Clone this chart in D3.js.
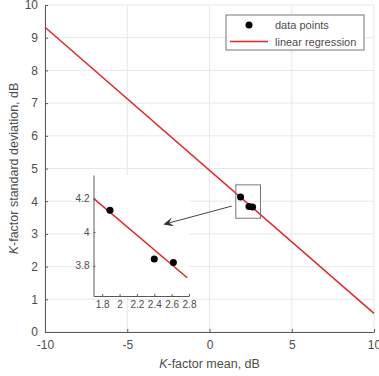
<!DOCTYPE html>
<html>
<head>
<meta charset="utf-8">
<script src="https://cdn.jsdelivr.net/npm/d3@7"></script>
<style>
  body { margin: 0; background: #fff; }
  svg { display: block; font-family: "Liberation Sans", Arial, sans-serif; }
</style>
</head>
<body>
<div id="chart"></div>
<script>
// data
let pointsX = [1.89, 2.40, 2.62]
let pointsY = [4.13, 3.84, 3.82]
let regX = [-10, 10]
let regY = [9.32, 0.57]
let xTicks = [-10, -5, 0, 5, 10]
let yTicks = [0, 1, 2, 3, 4, 5, 6, 7, 8, 9, 10]
let insetXTicks = [1.8, 2, 2.2, 2.4, 2.6, 2.8]
let insetYTicks = [3.8, 4, 4.2]
let zoomBox = [1.6, 3.1, 3.48, 4.5]      // x0, x1, y0, y1
let arrowFrom = [1.35, 3.85]
let arrowTo = [-2.81, 3.29]
let legendLabels = ["data points", "linear regression"]

const W = 379, H = 376
const red = "#e3262b", txt = "#4d4d4d", axc = "#5a5a5a", gridc = "#e8e8e8"

let svg = d3.select("#chart").append("svg").attr("width", W).attr("height", H)

let x = d3.scaleLinear().domain([-10, 10]).range([45, 374])
let y = d3.scaleLinear().domain([0, 10]).range([332, 5])

// grid
let grid = svg.append("g")
grid.selectAll(".gx").data(xTicks).enter().append("line")
    .attr("x1", d => x(d)).attr("x2", d => x(d)).attr("y1", y(0)).attr("y2", y(10))
    .attr("stroke", gridc)
grid.selectAll(".gy").data(yTicks).enter().append("line")
    .attr("x1", x(-10)).attr("x2", x(10)).attr("y1", d => y(d)).attr("y2", d => y(d))
    .attr("stroke", gridc)

// axes
let xAxis = svg.append("g").attr("transform", `translate(0,${y(0)})`)
    .call(d3.axisBottom(x).tickValues(xTicks).tickSizeInner(-3).tickSizeOuter(0).tickPadding(8))
let yAxis = svg.append("g").attr("transform", `translate(${x(-10)},0)`)
    .call(d3.axisLeft(y).tickValues(yTicks).tickSizeInner(-3).tickSizeOuter(0).tickPadding(7))
for (let a of [xAxis, yAxis]) {
    a.select(".domain").attr("stroke", axc)
    a.selectAll(".tick line").attr("stroke", axc)
    a.selectAll("text").attr("fill", txt).style("font-size", "12px")
}
xAxis.selectAll("text").text(d => d < 0 ? "-" + Math.abs(d) : d)

// axis labels
let xl = svg.append("text").attr("x", x(0)).attr("y", 368).attr("text-anchor", "middle")
    .attr("fill", txt).style("font-size", "12.5px")
xl.append("tspan").attr("font-style", "italic").text("K")
xl.append("tspan").text("-factor mean, dB")
let yl = svg.append("text").attr("transform", `translate(18,${y(5)}) rotate(-90)`)
    .attr("text-anchor", "middle").attr("fill", txt).style("font-size", "12.5px")
yl.append("tspan").attr("font-style", "italic").text("K")
yl.append("tspan").text("-factor standard deviation, dB")

// regression line
let line = d3.line().x(d => x(d[0])).y(d => y(d[1]))
svg.append("path").datum(d3.zip(regX, regY)).attr("d", line)
    .attr("fill", "none").attr("stroke", red).attr("stroke-width", 1.5)

// data points
svg.selectAll(".pt").data(d3.zip(pointsX, pointsY)).enter().append("circle")
    .attr("cx", d => x(d[0])).attr("cy", d => y(d[1])).attr("r", 3.5).attr("fill", "#000")

// zoom box
svg.append("rect")
    .attr("x", x(zoomBox[0])).attr("y", y(zoomBox[3]))
    .attr("width", x(zoomBox[1]) - x(zoomBox[0])).attr("height", y(zoomBox[2]) - y(zoomBox[3]))
    .attr("fill", "none").attr("stroke", "#777").attr("stroke-width", 1)

// inset
let ix = d3.scaleLinear().domain([1.7, 2.8]).range([93.5, 189])
let iy = d3.scaleLinear().domain([3.62, 4.34]).range([296, 175])
let inset = svg.append("g")
inset.append("rect").attr("x", ix(1.7)).attr("y", iy(4.34))
    .attr("width", ix(2.8) - ix(1.7)).attr("height", iy(3.62) - iy(4.34)).attr("fill", "#fff")
inset.append("clipPath").attr("id", "iclip").append("rect")
    .attr("x", ix(1.7)).attr("y", iy(4.34)).attr("width", ix(2.8) - ix(1.7) + 2).attr("height", iy(3.62) - iy(4.34))

let regSlope = (regY[1] - regY[0]) / (regX[1] - regX[0])
let iline = d3.line().x(d => ix(d[0])).y(d => iy(d[1]))
let iReg = [1.7, 2.78].map(v => [v, regY[0] + regSlope * (v - regX[0])])
inset.append("path").datum(iReg).attr("d", iline).attr("clip-path", "url(#iclip)")
    .attr("fill", "none").attr("stroke", red).attr("stroke-width", 1.5)
inset.selectAll(".ipt").data(d3.zip(pointsX, pointsY)).enter().append("circle")
    .attr("cx", d => ix(d[0])).attr("cy", d => iy(d[1])).attr("r", 3.5).attr("fill", "#000")

let ixAxis = inset.append("g").attr("transform", `translate(0,${iy(3.62)})`)
    .call(d3.axisBottom(ix).tickValues(insetXTicks).tickFormat(d => d).tickSizeInner(-2).tickSizeOuter(0).tickPadding(5))
let iyAxis = inset.append("g").attr("transform", `translate(${ix(1.7)},0)`)
    .call(d3.axisLeft(iy).tickValues(insetYTicks).tickFormat(d => d).tickSizeInner(-2).tickSizeOuter(0).tickPadding(4))
for (let a of [ixAxis, iyAxis]) {
    a.select(".domain").attr("stroke", axc)
    a.selectAll(".tick line").attr("stroke", axc)
    a.selectAll("text").attr("fill", txt).style("font-size", "10px")
}

// arrow
let ax0 = x(arrowFrom[0]), ay0 = y(arrowFrom[1]), ax1 = x(arrowTo[0]), ay1 = y(arrowTo[1])
svg.append("line").attr("x1", ax0).attr("y1", ay0).attr("x2", ax1 + 4).attr("y2", ay1 - 1)
    .attr("stroke", "#444").attr("stroke-width", 1)
let ang = Math.atan2(ay1 - ay0, ax1 - ax0)
let hl = 10, hw = 4.5, back = 6
let ux = Math.cos(ang), uy = Math.sin(ang)
let px = -uy, py = ux
let head = [
    [ax1, ay1],
    [ax1 - ux * hl + px * hw, ay1 - uy * hl + py * hw],
    [ax1 - ux * back, ay1 - uy * back],
    [ax1 - ux * hl - px * hw, ay1 - uy * hl - py * hw]
]
svg.append("path").attr("d", "M" + head.join("L") + "Z").attr("fill", "#333")

// legend
let lg = svg.append("g")
lg.append("rect").attr("x", 226).attr("y", 15).attr("width", 138).attr("height", 35)
    .attr("fill", "#fff").attr("stroke", "#777")
lg.append("circle").attr("cx", 249).attr("cy", 25).attr("r", 3.5).attr("fill", "#000")
lg.append("line").attr("x1", 230).attr("x2", 268).attr("y1", 41.5).attr("y2", 41.5)
    .attr("stroke", red).attr("stroke-width", 1.5)
lg.selectAll(".lt").data(legendLabels).enter().append("text")
    .attr("x", 275).attr("y", (d, i) => 29 + i * 16.5)
    .attr("fill", txt).style("font-size", "11px").text(d => d)
</script>
</body>
</html>
